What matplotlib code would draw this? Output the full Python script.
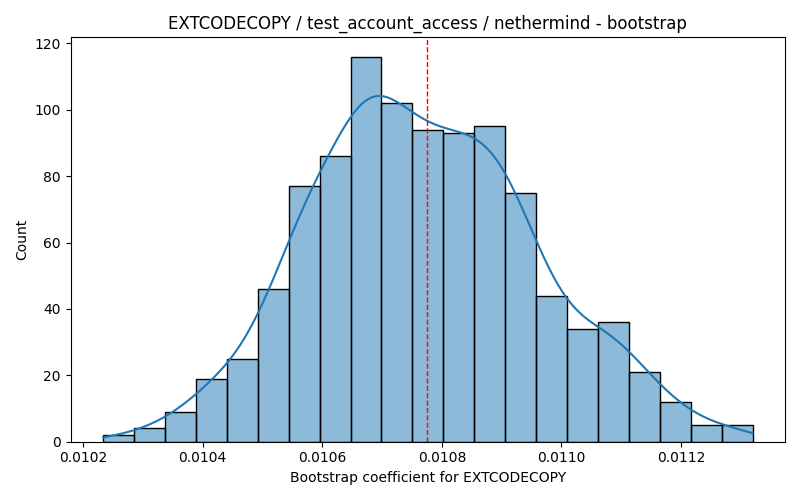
import numpy as np
import matplotlib
matplotlib.use("Agg")
import matplotlib.pyplot as plt
import seaborn as sns

# histogram (21 bins, 1000 bootstrap draws)
bin_lo = 0.0102334
bin_hi = 0.0113195
counts = [2, 4, 9, 19, 25, 46, 77, 86, 116, 102, 94,
          93, 95, 75, 44, 34, 36, 21, 12, 5, 5]
point_estimate = 0.0107754

edges = np.linspace(bin_lo, bin_hi, len(counts) + 1)
centers = (edges[:-1] + edges[1:]) / 2
samples = np.repeat(centers, counts)

fig, ax = plt.subplots(figsize=(8, 5), dpi=100)
sns.histplot(samples, bins=edges, kde=True, ax=ax,
             kde_kws={"cut": 3, "clip": (edges[0], edges[-1])})
ax.axvline(point_estimate, color="red", linestyle="--", linewidth=1)
ax.set_title("EXTCODECOPY / test_account_access / nethermind - bootstrap")
ax.set_xlabel("Bootstrap coefficient for EXTCODECOPY")
ax.set_ylabel("Count")
fig.tight_layout()
fig.savefig("out.png")
